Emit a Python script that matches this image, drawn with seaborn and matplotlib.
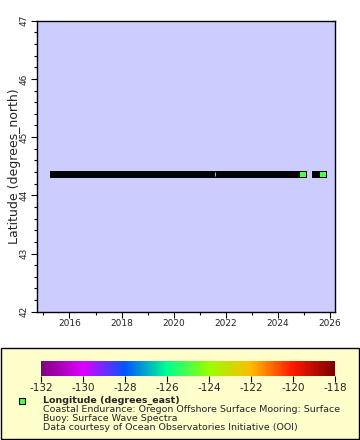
import numpy as np
import pandas as pd
import seaborn as sns
import matplotlib
matplotlib.use("Agg")
import matplotlib.pyplot as plt
from matplotlib.colors import LinearSegmentedColormap, Normalize
from matplotlib.patches import Rectangle
from matplotlib.lines import Line2D
from matplotlib.ticker import MultipleLocator
import matplotlib.colorbar as mcolorbar

# ---- data ----
seg_start = [2015.35, 2025.42]      # first observation time of each deployment (decimal year)
seg_end = [2024.95, 2025.72]        # last observation time of each deployment
seg_lat = [44.37, 44.37]            # latitude (degrees_north)
seg_lon = [-124.95, -124.95]        # longitude (degrees_east)
gap_time = [2021.6]
gap_lat = [44.37]
gap_lon = [-124.95]

cbar_ticks = [-132, -130, -128, -126, -124, -122, -120, -118]
palette_colors = ["#800080", "#dd00ff", "#0055ff", "#00ff90",
                  "#99ff00", "#ffbb00", "#ff1800", "#7a0000"]
year_ticks = [2016, 2018, 2020, 2022, 2024, 2026]
lat_ticks = [42, 43, 44, 45, 46, 47]

title_lines = ["Coastal Endurance: Oregon Offshore Surface Mooring: Surface",
               "Buoy: Surface Wave Spectra",
               "Data courtesy of Ocean Observatories Initiative (OOI)"]

sns.set_style("ticks")
plt.rcParams["font.family"] = ["DejaVu Sans"]

cmap = LinearSegmentedColormap.from_list("rainbow2", palette_colors)
norm = Normalize(vmin=-132, vmax=-118)

W, H = 360, 440
fig = plt.figure(figsize=(3.6, 4.4), dpi=100)
fig.patch.set_facecolor("white")

ax = fig.add_axes([36.7 / W, 1 - 311.7 / H, (335 - 36.7) / W, (311.7 - 20.7) / H])
ax.set_facecolor("#ccccff")

segs = pd.DataFrame({"start": seg_start, "end": seg_end, "lat": seg_lat, "lon": seg_lon})
ax.hlines(segs["lat"], segs["start"], segs["end"], colors="black", linewidth=5.0,
          zorder=2, capstyle="projecting")
sns.scatterplot(data=segs, x="end", y="lat", hue="lon", palette=cmap, hue_norm=norm,
                marker="s", s=20, edgecolor="black", linewidth=0.7, legend=False,
                ax=ax, zorder=3)
gaps = pd.DataFrame({"t": gap_time, "lat": gap_lat, "lon": gap_lon})
ax.scatter(gaps["t"], gaps["lat"], marker="|", s=5, linewidths=0.8,
           color=[cmap(norm(v)) for v in gaps["lon"]], zorder=3)

ax.set_xlim(2014.74, 2026.2)
ax.set_ylim(42, 47)
ax.set_xticks(year_ticks)
ax.set_xticklabels([str(y) for y in year_ticks])
ax.xaxis.set_minor_locator(MultipleLocator(1))
ax.set_yticks(lat_ticks)
ax.yaxis.set_minor_locator(MultipleLocator(0.2))
ax.set_xlabel("")
ax.set_ylabel("")
fig.text(15 / W, 1 - 166 / H, "Latitude (degrees_north)", fontsize=9,
         rotation=90, ha="center", va="center")
ax.tick_params(axis="both", which="major", direction="out", length=4, width=0.8,
               labelsize=6.5, pad=1.5, color="black")
ax.tick_params(axis="both", which="minor", direction="out", length=2, width=0.8,
               color="black")
for lab in ax.get_yticklabels():
    lab.set_rotation(90)
    lab.set_va("center")
for sp in ax.spines.values():
    sp.set_visible(True)
    sp.set_color("black")
    sp.set_linewidth(1.0)

# ---- legend box ----
fig.add_artist(Rectangle((1 / W, 1 - 439 / H), 358 / W, (439 - 348.3) / H,
                         transform=fig.transFigure, facecolor="#ffffcc",
                         edgecolor="black", linewidth=1.0, zorder=0))

cax = fig.add_axes([41 / W, 1 - 375.7 / H, 294 / W, 15 / H])
cb = mcolorbar.ColorbarBase(cax, cmap=cmap, norm=norm, orientation="horizontal",
                            ticks=cbar_ticks)
cb.outline.set_visible(False)
cax.tick_params(axis="x", direction="out", length=4, width=0.8, labelsize=7.5, pad=1,
                color="black")
cb.ax.set_xticklabels([str(v) for v in cbar_ticks])

fig.add_artist(Line2D([22 / W], [1 - 401 / H], marker="s", markersize=5,
                      markerfacecolor=cmap(norm(seg_lon[0])), markeredgecolor="black",
                      markeredgewidth=0.8, linestyle="none", transform=fig.transFigure))

fig.text(42.7 / W, 1 - 400 / H, "Longitude (degrees_east)", fontsize=6.8,
         fontweight="bold", va="center", ha="left")
for i, line in enumerate(title_lines):
    fig.text(42.7 / W, 1 - (409 + 9 * i) / H, line, fontsize=6.8, va="center", ha="left")

fig.savefig("out.png", dpi=100, facecolor="white")
